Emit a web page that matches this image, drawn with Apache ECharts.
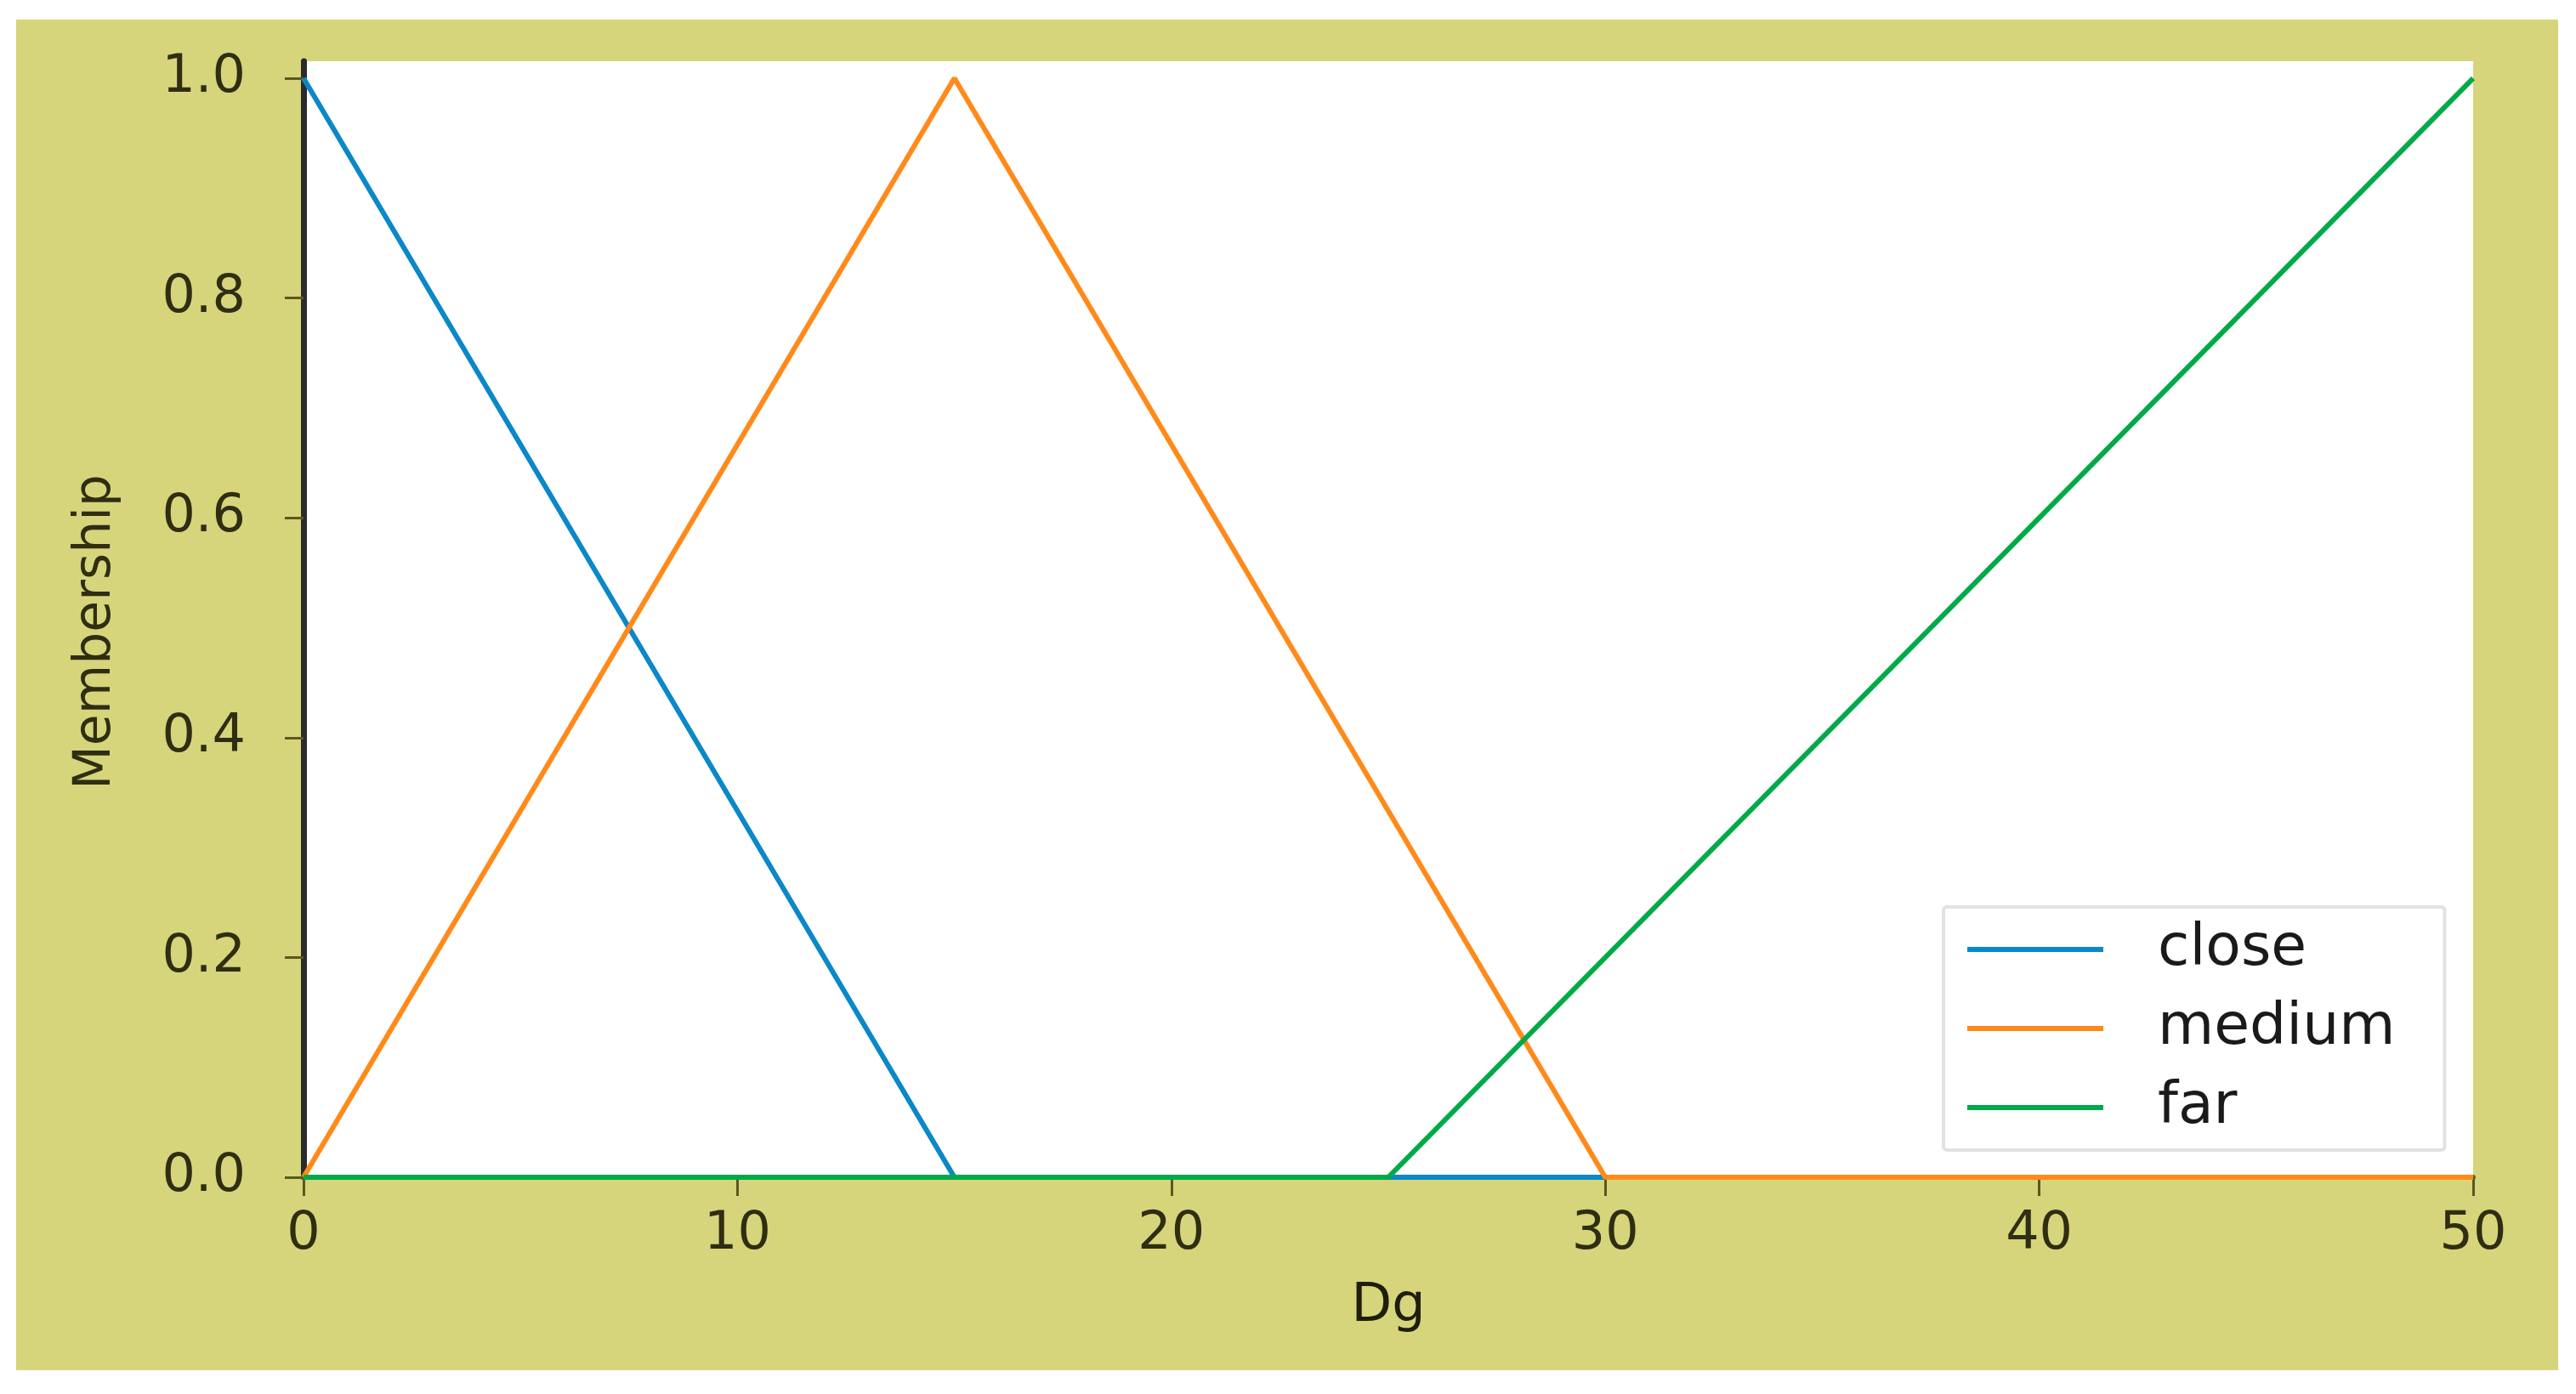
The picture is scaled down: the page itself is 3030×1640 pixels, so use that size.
<!DOCTYPE html>
<html>
<head>
<meta charset="utf-8">
<script src="https://cdn.jsdelivr.net/npm/echarts@6/dist/echarts.min.js"></script>
<style>
  html, body { margin: 0; padding: 0; background: #ffffff; }
  #main { position: absolute; left: 19px; top: 23px; width: 2990px; height: 1589px; }
</style>
</head>
<body>
<div id="main"></div>
<script>
  // membership functions for Dg
  const closeX = [0, 15, 50];
  const closeY = [1, 0, 0];
  const mediumX = [0, 15, 30, 50];
  const mediumY = [0, 1, 0, 0];
  const farX = [0, 25, 50];
  const farY = [0, 0, 1];
  const yTicks = [0, 0.2, 0.4, 0.6, 0.8, 1.0];
  const xTicks = [0, 10, 20, 30, 40, 50];

  const pairs = (xs, ys) => xs.map((x, i) => [x, ys[i]]);

  const chart = echarts.init(document.getElementById('main'));
  const axisText = '#2f2e12';

  const option = {
    backgroundColor: '#d6d57b',
    animation: false,
    grid: {
      left: 338, right: 100, top: 49, bottom: 227,
      show: true, backgroundColor: '#ffffff', borderWidth: 0
    },
    legend: {
      left: 2267, top: 1044,
      orient: 'vertical',
      icon: 'rect',
      itemWidth: 160, itemHeight: 6, itemGap: 25,
      padding: [16, 58, 16, 28],
      backgroundColor: '#ffffff',
      borderColor: '#e2e2e2', borderWidth: 4, borderRadius: 4,
      textStyle: {
        fontFamily: 'DejaVu Sans', fontSize: 68, color: '#1a1a1a',
        lineHeight: 64, padding: [0, 0, 0, 59]
      },
      data: ['close', 'medium', 'far']
    },
    xAxis: {
      type: 'value', min: 0, max: 50, interval: 10,
      name: 'Dg', nameLocation: 'middle', nameGap: 118,
      nameTextStyle: { fontFamily: 'DejaVu Sans', fontSize: 62, color: '#1f1e0a' },
      offset: 4,
      splitLine: { show: false },
      axisLine: { lineStyle: { color: '#676632', width: 6 } },
      axisTick: { customValues: xTicks, length: 22, lineStyle: { color: '#5a5920', width: 3 } },
      axisLabel: {
        customValues: xTicks, margin: 33,
        fontFamily: 'DejaVu Sans', fontSize: 62, color: axisText
      }
    },
    yAxis: {
      type: 'value', min: 0, max: 1.0155,
      name: 'Membership', nameLocation: 'middle', nameGap: 214, nameRotate: 90,
      nameTextStyle: { fontFamily: 'DejaVu Sans', fontSize: 60, color: axisText, padding: [0, 30, 0, 0] },
      splitLine: { show: false },
      axisLine: { show: true, lineStyle: { color: '#2b2a2e', width: 7 } },
      axisTick: { show: true, customValues: yTicks, length: 22, lineStyle: { color: '#5a5920', width: 3 } },
      axisLabel: {
        customValues: yTicks, margin: 68,
        fontFamily: 'DejaVu Sans', fontSize: 62, color: axisText,
        formatter: v => v.toFixed(1)
      }
    },
    series: [
      {
        name: 'close', type: 'line', data: pairs(closeX, closeY),
        showSymbol: false, color: '#0a88c8',
        lineStyle: { width: 6, color: '#0a88c8' }
      },
      {
        name: 'medium', type: 'line', data: pairs(mediumX, mediumY),
        showSymbol: false, color: '#ff8a1a',
        lineStyle: { width: 6, color: '#ff8a1a' }
      },
      {
        name: 'far', type: 'line', data: pairs(farX, farY),
        showSymbol: false, color: '#00aa48',
        lineStyle: { width: 6, color: '#00aa48' }
      }
    ]
  };
  chart.setOption(option);
</script>
</body>
</html>
